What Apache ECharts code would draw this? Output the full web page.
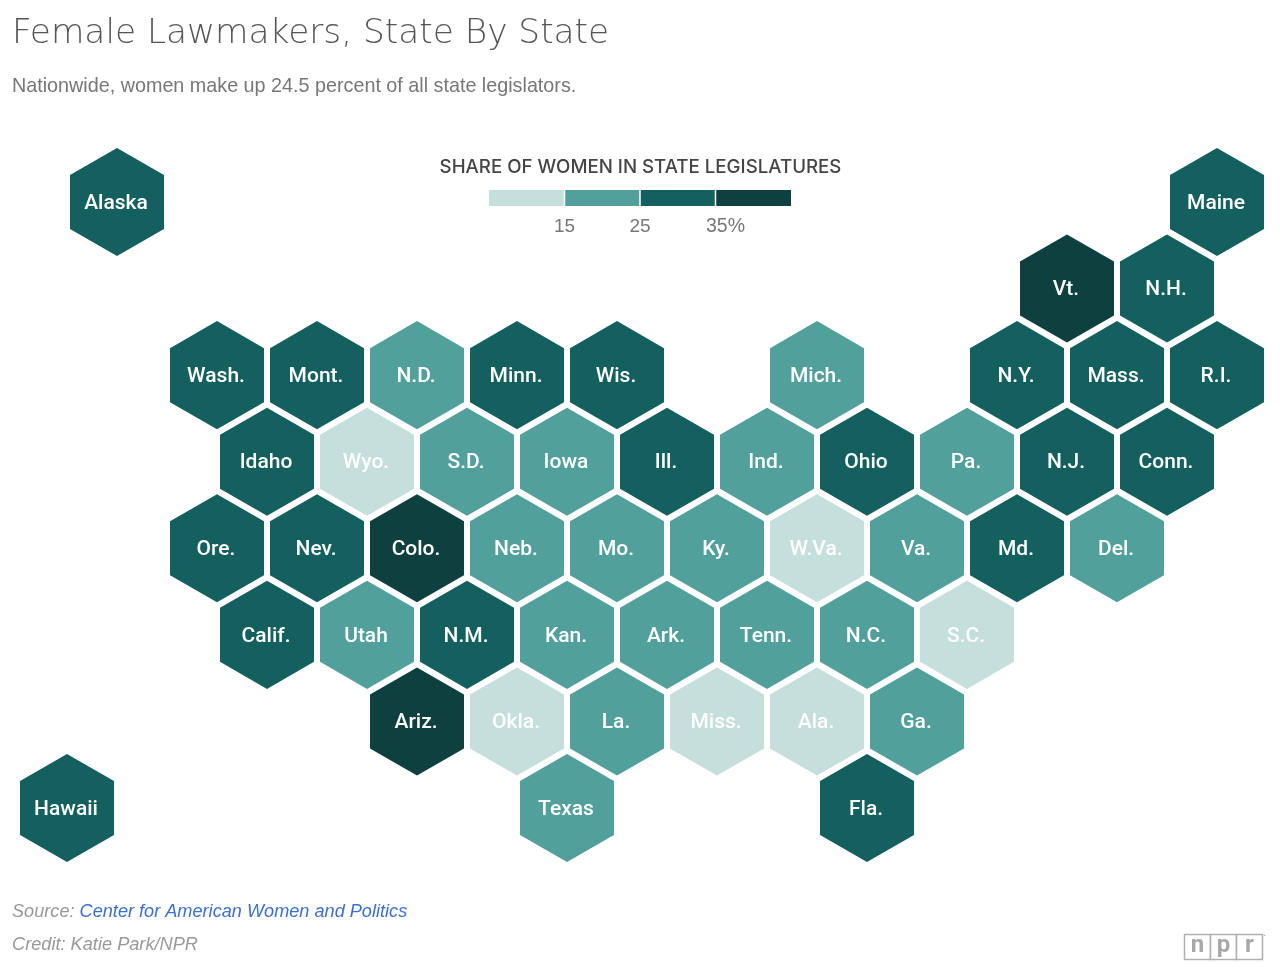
<!DOCTYPE html>
<html>
<head>
<meta charset="utf-8">
<style>html,body{margin:0;padding:0;background:#fff}#chart{width:1280px;height:972px}</style>
<script src="https://cdn.jsdelivr.net/npm/echarts@6/dist/echarts.min.js"></script>
</head>
<body>
<div id="chart"></div>
<script>
const stateNames = ['Alaska','Maine','Vt.','N.H.',
  'Wash.','Mont.','N.D.','Minn.','Wis.','Mich.','N.Y.','Mass.','R.I.',
  'Idaho','Wyo.','S.D.','Iowa','Ill.','Ind.','Ohio','Pa.','N.J.','Conn.',
  'Ore.','Nev.','Colo.','Neb.','Mo.','Ky.','W.Va.','Va.','Md.','Del.',
  'Calif.','Utah','N.M.','Kan.','Ark.','Tenn.','N.C.','S.C.',
  'Ariz.','Okla.','La.','Miss.','Ala.','Ga.',
  'Hawaii','Texas','Fla.'];
const stateCols = [2,24,21,23,
  4,6,8,10,12,16,20,22,24,
  5,7,9,11,13,15,17,19,21,23,
  4,6,8,10,12,14,16,18,20,22,
  5,7,9,11,13,15,17,19,
  8,10,12,14,16,18,
  1,11,17];
const stateRows = [0,0,1,1,
  2,2,2,2,2,2,2,2,2,
  3,3,3,3,3,3,3,3,3,3,
  4,4,4,4,4,4,4,4,4,4,
  5,5,5,5,5,5,5,5,
  6,6,6,6,6,6,
  7,7,7];
// Estimated share (%): the picture only shows the colour band, so each is the band's middle
const stateShares = [30,30,40,30,
  30,30,20,30,30,20,30,30,30,
  30,10,20,20,30,20,30,20,30,30,
  30,30,40,20,20,20,10,20,30,20,
  30,20,30,20,20,20,20,10,
  40,10,20,10,10,20,
  30,20,30];
const bandEdges = [5,15,25,35,45];
const bandColors = ['#c5dfdc','#52a09c','#14605f','#0d403f'];
const legendTicks = [15,25,35];
const legendTitle = 'SHARE OF WOMEN IN STATE LEGISLATURES';
const titleText = 'Female Lawmakers, State By State';
const subtitleText = 'Nationwide, women make up 24.5 percent of all state legislators.';

function bandColor(v){
  for(let i=0;i<bandColors.length;i++){ if(v<bandEdges[i+1]) return bandColors[i]; }
  return bandColors[bandColors.length-1];
}
const stateData = stateNames.map((n,i)=>[stateCols[i],stateRows[i],stateShares[i],n]);
const bandData = bandColors.map((c,i)=>[bandEdges[i],bandEdges[i+1]]);

function renderHex(params,api){
  const c = api.coord([api.value(0),api.value(1)]);
  const unit = api.size([1,1]);
  const w = unit[0]*0.94, r = unit[1]*0.624;
  const pts = [[c[0],c[1]-r],[c[0]+w,c[1]-r/2],[c[0]+w,c[1]+r/2],[c[0],c[1]+r],[c[0]-w,c[1]+r/2],[c[0]-w,c[1]-r/2]];
  return {
    type:'group',
    children:[
      {type:'polygon',shape:{points:pts},style:{fill:bandColor(api.value(2))}},
      {type:'text',x:c[0]-1,y:c[1]+1.5,style:{
        text:stateNames[params.dataIndex],fill:'#fff',
        font:'500 21px Roboto, sans-serif',align:'center',verticalAlign:'middle'}}
    ]
  };
}
function renderBand(params,api){
  const a = api.coord([api.value(0),0]);
  const b = api.coord([api.value(1),1]);
  const i = params.dataIndex;
  const x0 = a[0]+(i>0?0.75:0), x1 = b[0]-(i<bandColors.length-1?0.75:0);
  return {
    type:'rect',
    shape:{x:x0,y:b[1],width:x1-x0,height:a[1]-b[1]},
    style:{fill:bandColors[i]}
  };
}
const chart = echarts.init(document.getElementById('chart'));
const logoBox = (x)=>({type:'rect',shape:{x:x,y:934.5,width:26,height:25},style:{fill:'#fff',stroke:'#b0b0b0',lineWidth:1.5}});
const logoLetter = (x,t)=>({type:'text',x:x,y:946,style:{text:t,font:'700 24px Roboto, sans-serif',fill:'#a8a8a8',align:'center',verticalAlign:'middle'}});
chart.setOption({
  animation:false,
  backgroundColor:'#fff',
  title:[
    {text:titleText,left:12,top:14,padding:0,textStyle:{fontFamily:'DejaVu Sans',fontWeight:200,fontSize:34.3,lineHeight:40,color:'#555'}},
    {text:subtitleText,left:12,top:77,padding:0,textStyle:{fontFamily:'Liberation Sans',fontWeight:400,fontSize:19.75,color:'#777'}},
    {text:legendTitle,left:640.5,textAlign:'center',top:158,padding:0,textStyle:{fontFamily:'Inter',fontWeight:500,fontSize:18.7,color:'#444'}},
    {text:'{a|Source: }{b|Center for American Women and Politics}',left:12,top:903,padding:0,
      textStyle:{rich:{a:{fontFamily:'Liberation Sans',fontStyle:'italic',fontWeight:'normal',fontSize:18.15,color:'#999'},b:{fontFamily:'Liberation Sans',fontStyle:'italic',fontWeight:'normal',fontSize:18.15,color:'#3d6fd0'}}}},
    {text:'Credit: Katie Park/NPR',left:12,top:936,padding:0,textStyle:{fontFamily:'Liberation Sans',fontStyle:'italic',fontWeight:400,fontSize:18.2,color:'#999'}}
  ],
  grid:[
    {left:17,top:202,width:1250,height:606,containLabel:false},
    {left:489,top:190,width:302,height:16}
  ],
  xAxis:[
    {type:'value',gridIndex:0,min:0,max:25,show:false},
    {type:'value',gridIndex:1,min:5,max:45,interval:10,
      axisLine:{show:false},axisTick:{show:false},splitLine:{show:false},
      axisLabel:{show:true,margin:11,color:'#777',fontFamily:'Liberation Sans',fontSize:19,
        showMinLabel:false,showMaxLabel:false,
        formatter:v=>legendTicks.includes(v)?(v===35?'{p|35%}':String(v)):'',
        rich:{p:{color:'#777',fontFamily:'Liberation Sans',fontSize:19.5,padding:[0,0,0,20]}}}}
  ],
  yAxis:[
    {type:'value',gridIndex:0,min:0,max:7,inverse:true,show:false},
    {type:'value',gridIndex:1,min:0,max:1,show:false}
  ],
  series:[
    {type:'custom',coordinateSystem:'cartesian2d',xAxisIndex:0,yAxisIndex:0,clip:false,silent:true,
      renderItem:renderHex,data:stateData,encode:{x:0,y:1}},
    {type:'custom',coordinateSystem:'cartesian2d',xAxisIndex:1,yAxisIndex:1,silent:true,
      renderItem:renderBand,data:bandData,encode:{x:[0,1]}}
  ],
  graphic:[
    logoBox(1184.5),logoBox(1210.5),logoBox(1236.5),
    logoLetter(1197.5,'n'),logoLetter(1223.5,'p'),logoLetter(1249.5,'r'),
    {type:'circle',shape:{cx:1264.5,cy:935.5,r:0.8},style:{fill:'#b0b0b0'}}
  ]
});
</script>
</body>
</html>
